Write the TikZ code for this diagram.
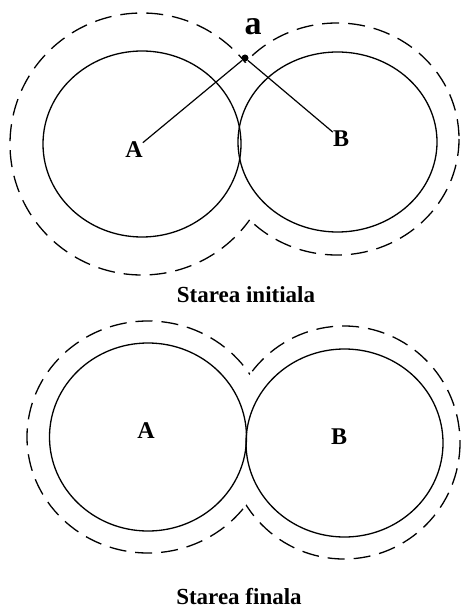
\documentclass[tikz,border=0pt]{standalone}
\usepackage{fontspec}
\setmainfont{Liberation Serif}
\usetikzlibrary{positioning}
\tikzset{ring/.style={draw=black,line width=1.3pt}, halo/.style={draw=black,line width=1.3pt,dash pattern=on 17pt off 9pt}, lbl/.style={inner sep=0pt,font=\fontsize{24}{28}\selectfont\bfseries}, title/.style={inner sep=0pt,anchor=base,font=\fontsize{23}{27}\selectfont\bfseries}, spot/.style={circle,fill=black,inner sep=0pt,minimum size=7pt}, link/.style={draw=black,line width=1.2pt}}
\begin{document}
\begin{tikzpicture}[x=1pt,y=-1pt]
\useasboundingbox (0,0) rectangle (460,609);
\draw[ring] (142,144) ellipse [x radius=99,y radius=93];
\draw[ring] (337.5,142) ellipse [x radius=99.5,y radius=90];
\begin{scope}[even odd rule]\clip (-5,-5) rectangle (470,300) (337,139) ellipse [x radius=122,y radius=116];
\draw[halo] (142,144) ellipse [x radius=132,y radius=131];\end{scope}
\begin{scope}[even odd rule]\clip (-5,-5) rectangle (470,300) (142,144) ellipse [x radius=132,y radius=131];
\draw[halo] (337,139) ellipse [x radius=122,y radius=116];\end{scope}
\node[lbl] (A) at (134,150) {A};
\node[lbl] (B) at (341,139) {B};
\node[spot] (a) at (245,58) {};
\node[lbl,font=\fontsize{34}{40}\selectfont\bfseries] (la) at (253,27) {a};
\draw[link] (A)--(a);\draw[link] (a)--(B);
\node[title] (t1) at (246,302) {Starea initiala};
\draw[ring] (148,437) ellipse [x radius=98.5,y radius=94];
\draw[ring] (344.5,443) ellipse [x radius=98.5,y radius=94];
\begin{scope}[even odd rule]\clip (-5,305) rectangle (470,580) (344,442.5) ellipse [x radius=116,y radius=116.5];
\draw[halo] (148,437) ellipse [x radius=121,y radius=116];\end{scope}
\begin{scope}[even odd rule]\clip (-5,305) rectangle (470,580) (148,437) ellipse [x radius=121,y radius=116];
\draw[halo] (344,442.5) ellipse [x radius=116,y radius=116.5];\end{scope}
\node[lbl] (A2) at (146,431) {A};
\node[lbl] (B2) at (339,437) {B};
\node[title] (t2) at (239,604) {Starea finala};
\end{tikzpicture}
\end{document}
